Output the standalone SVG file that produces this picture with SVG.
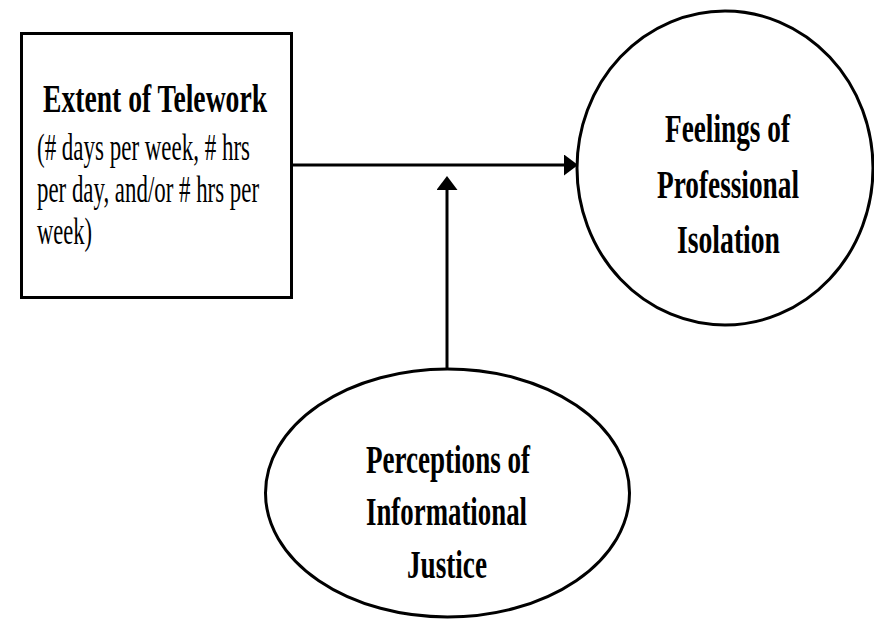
<svg xmlns="http://www.w3.org/2000/svg" width="874" height="626" viewBox="0 0 874 626">
  <defs>
    <marker id="arrow" markerUnits="userSpaceOnUse" markerWidth="14" markerHeight="21" refX="0" refY="10.5" orient="auto">
      <path d="M0,0 L14,10.5 L0,21 Z" fill="#000"/>
    </marker>
  </defs>
  <style>
    .shape { fill: #fff; stroke: #000; stroke-width: 3; }
    .edge { stroke: #000; stroke-width: 3; fill: none; marker-end: url(#arrow); }
    .title { font-weight: bold; font-size: 41px; fill: #000; }
    .sub { font-size: 38px; fill: #000; }
  </style>
  <rect width="874" height="626" fill="#fff"/>

  <!-- connectors -->
  <g id="connectors">
    <line class="edge" x1="292" y1="165" x2="564" y2="165"/>
    <line class="edge" x1="447" y1="368" x2="447" y2="190"/>
  </g>

  <!-- predictor -->
  <g id="extent-of-telework" font-family="'Liberation Serif', 'DejaVu Serif', serif">
    <rect class="shape" x="21.5" y="33.5" width="270" height="264"/>
    <text class="title" x="43" y="112" textLength="224" lengthAdjust="spacingAndGlyphs">Extent of Telework</text>
    <text class="sub" x="37" y="160" textLength="213" lengthAdjust="spacingAndGlyphs">(# days per week, # hrs</text>
    <text class="sub" x="37" y="202" textLength="222" lengthAdjust="spacingAndGlyphs">per day, and/or # hrs per</text>
    <text class="sub" x="37" y="244" textLength="55" lengthAdjust="spacingAndGlyphs">week)</text>
  </g>

  <!-- outcome -->
  <g id="professional-isolation" font-family="'Liberation Serif', 'DejaVu Serif', serif">
    <ellipse class="shape" cx="725" cy="168" rx="148" ry="157"/>
    <text class="title" x="665" y="142" textLength="125" lengthAdjust="spacingAndGlyphs">Feelings of</text>
    <text class="title" x="657" y="198" textLength="142" lengthAdjust="spacingAndGlyphs">Professional</text>
    <text class="title" x="677" y="253" textLength="103" lengthAdjust="spacingAndGlyphs">Isolation</text>
  </g>

  <!-- moderator -->
  <g id="informational-justice" font-family="'Liberation Serif', 'DejaVu Serif', serif">
    <ellipse class="shape" cx="447.5" cy="493" rx="182" ry="124"/>
    <text class="title" x="366" y="473" textLength="164" lengthAdjust="spacingAndGlyphs">Perceptions of</text>
    <text class="title" x="366" y="525" textLength="161" lengthAdjust="spacingAndGlyphs">Informational</text>
    <text class="title" x="407" y="578" textLength="80" lengthAdjust="spacingAndGlyphs">Justice</text>
  </g>
</svg>
